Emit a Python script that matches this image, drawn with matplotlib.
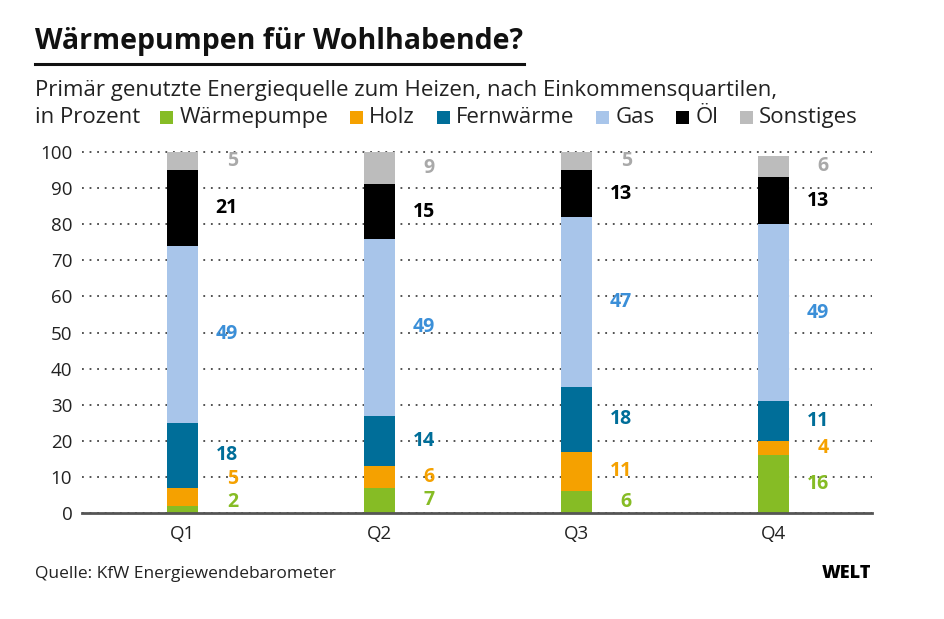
#!/usr/bin/env python3

import numpy as np
import matplotlib
matplotlib.use("Agg")
import matplotlib.pyplot as plt
from matplotlib.patches import Rectangle

# data (percent)
quartiles = ["Q1", "Q2", "Q3", "Q4"]
waermepumpe = [2, 7, 6, 16]
holz = [5, 6, 11, 4]
fernwaerme = [18, 14, 18, 11]
gas = [49, 49, 47, 49]
oel = [21, 15, 13, 13]
sonstiges = [5, 9, 5, 6]

series_names = ["Wärmepumpe", "Holz", "Fernwärme", "Gas", "Öl", "Sonstiges"]
series_values = [waermepumpe, holz, fernwaerme, gas, oel, sonstiges]
bar_colors = ["#86bc25", "#f5a100", "#006e99", "#a8c5ea", "#000000", "#bcbcbc"]
label_colors = ["#86bc25", "#f5a100", "#006e99", "#3b8fd8", "#000000", "#a9a9a9"]

plt.rcParams["font.family"] = ["Open Sans", "DejaVu Sans"]

W, H = 945, 619
fig = plt.figure(figsize=(W / 100, H / 100), dpi=100)
fig.patch.set_facecolor("white")


def fx(px):
    return px / W


def fy(py):
    return 1 - py / H


ax = fig.add_axes([fx(82), fy(513), fx(872) - fx(82), fy(152) - fy(513)])

x = np.arange(len(quartiles))
width = 0.157
bottoms = np.zeros(len(quartiles))
for name, vals, col in zip(series_names, series_values, bar_colors):
    ax.bar(x, vals, width, bottom=bottoms, color=col, linewidth=0, zorder=3)
    bottoms += np.array(vals)

# value labels, centred in segment, pushed apart when too close
min_gap = 6.5
for i in range(len(quartiles)):
    base = 0.0
    prev = None
    for k, vals in enumerate(series_values):
        v = vals[i]
        yc = base + v / 2
        if prev is None:
            yc = max(yc, 3.0)
        else:
            yc = max(yc, prev + min_gap)
        prev = yc
        base += v
        ax.annotate(
            f"{v}",
            xy=(x[i] + width / 2, yc),
            xytext=(28.8, 0),
            textcoords="offset points",
            ha="right",
            va="center",
            fontsize=14,
            fontweight="bold",
            color=label_colors[k],
            zorder=4,
        )

ax.set_xlim(-0.51, 3.5)
ax.set_ylim(0, 100)
ax.set_yticks(range(0, 101, 10))
ax.set_xticks(x)
ax.set_xticklabels(quartiles)
ax.yaxis.grid(True, linestyle=(0, (1, 3.2)), color="#444444", linewidth=1.3, clip_on=False)
ax.set_axisbelow(True)
for s in ax.spines.values():
    s.set_visible(False)
ax.axhline(0, color="#555555", linewidth=2, zorder=5, clip_on=False)
ax.tick_params(axis="y", length=0, pad=7, labelsize=13.5, labelcolor="#222222")
ax.tick_params(axis="x", length=0, pad=9, labelsize=13.5, labelcolor="#222222")

# header
fig.text(fx(35), fy(49), "Wärmepumpen für Wohlhabende?", fontsize=20.5,
         fontweight="bold", ha="left", va="baseline", color="#111111")
fig.add_artist(plt.Line2D([fx(35), fx(524)], [fy(64), fy(64)], color="#111111", linewidth=2.2))
fig.text(fx(35), fy(96), "Primär genutzte Energiequelle zum Heizen, nach Einkommensquartilen,",
         fontsize=16, ha="left", va="baseline", color="#222222")
t0 = fig.text(fx(35), fy(123), "in Prozent", fontsize=16,
              ha="left", va="baseline", color="#222222")

# legend chain, measured from rendered text
renderer = fig.canvas.get_renderer()
cur = t0.get_window_extent(renderer).x1 + 20
for name, col in zip(series_names, bar_colors):
    sq = 13
    fig.add_artist(Rectangle((fx(cur), fy(124)), fx(sq), sq / H, color=col,
                             transform=fig.transFigure, linewidth=0))
    t = fig.text(fx(cur + sq + 6), fy(123), name, fontsize=16,
                 ha="left", va="baseline", color="#222222")
    cur = t.get_window_extent(renderer).x1 + 22

# footer
fig.text(fx(35), fy(578), "Quelle: KfW Energiewendebarometer", fontsize=12.5,
         ha="left", va="baseline", color="#222222")
fig.text(fx(871), fy(578), "WELT", fontsize=13, fontweight="heavy",
         ha="right", va="baseline", color="#000000")

fig.savefig("out.png", dpi=100, facecolor="white")
